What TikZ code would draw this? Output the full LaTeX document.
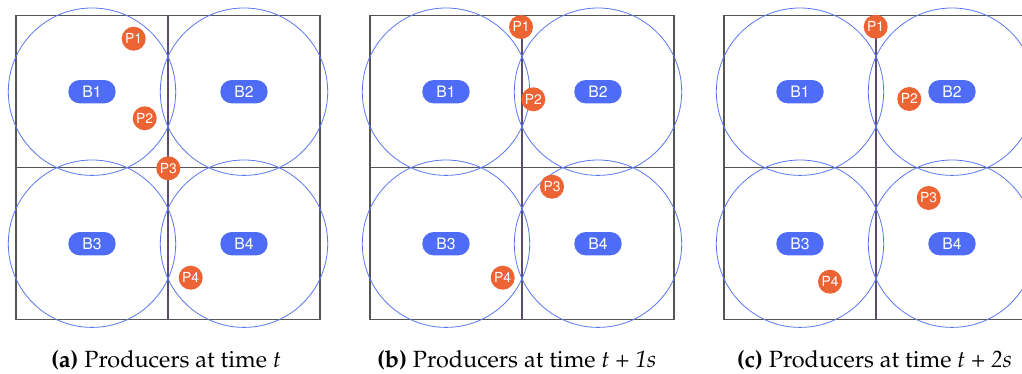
\documentclass[tikz,border=0pt]{standalone}
\usepackage[T1]{fontenc}
\usepackage{mathpazo}
\definecolor{beaconblue}{HTML}{4F6CF6}
\definecolor{rangeblue}{HTML}{5A78F0}
\definecolor{prodorange}{HTML}{EC6434}
\definecolor{gridpurple}{HTML}{5C4C6E}
\definecolor{gridgray}{HTML}{555555}
\begin{document}
\begin{tikzpicture}[x=0.75pt,y=-0.75pt,
  beacon/.style={fill=beaconblue,text=white,rounded corners=8.5pt,minimum width=35.5pt,
    minimum height=17.5pt,inner sep=0pt,font=\fontfamily{phv}\fontsize{11.8}{12}\selectfont},
  producer/.style={circle,fill=prodorange,text=white,minimum size=18pt,inner sep=0pt,
    font=\fontfamily{phv}\fontsize{10.4}{11}\selectfont},
  rangecircle/.style={rangeblue,line width=0.6pt},
  caption/.style={anchor=base,font=\fontsize{17.6}{20}\selectfont}]
  \useasboundingbox (0,0) rectangle (1022,374);
  \clip (0,0) rectangle (1022,374);
  \foreach \pn/\ox in {a/16,b/370,c/724}{
    \draw[gridgray,line width=0.8pt] (\ox,15.7) rectangle +(304,304);
    \draw[gridgray,line width=0.8pt] (\ox,167.7) -- (\ox+304,167.7);
    \draw[gridpurple,line width=0.8pt] (\ox+152,15.7) -- (\ox+152,319.7);
    \foreach \i/\bx/\by in {1/76/76,2/228/76,3/76/228,4/228/228}{
      \draw[rangecircle] (\ox+\bx,15.7+\by) circle (83.7);
      \node[beacon] (b\pn\i) at (\ox+\bx,15.7+\by) {B\i};
    }
  }
  % producers at time t
  \node[producer] (pa1) at (133.7,38.7) {P1};
  \node[producer] (pa2) at (144.7,118.3) {P2};
  \node[producer] (pa3) at (168.3,168.3) {P3};
  \node[producer] (pa4) at (190.7,277.7) {P4};
  % producers at time t + 1s
  \node[producer] (pb1) at (521,27) {P1};
  \node[producer] (pb2) at (533.3,99.3) {P2};
  \node[producer] (pb3) at (552,186.7) {P3};
  \node[producer] (pb4) at (502.7,277.7) {P4};
  % producers at time t + 2s
  \node[producer] (pc1) at (875.7,26.7) {P1};
  \node[producer] (pc2) at (909.3,99) {P2};
  \node[producer] (pc3) at (928.7,198) {P3};
  \node[producer] (pc4) at (830,281.7) {P4};
  \node[caption] (capa) at (166,368) {\textbf{(a)} Producers at time \textit{t}};
  \node[caption] (capb) at (516.7,368) {\textbf{(b)} Producers at time \textit{t} + \textit{1s}};
  \node[caption] (capc) at (874.5,368) {\textbf{(c)} Producers at time \textit{t} + \textit{2s}};
\end{tikzpicture}
\end{document}
